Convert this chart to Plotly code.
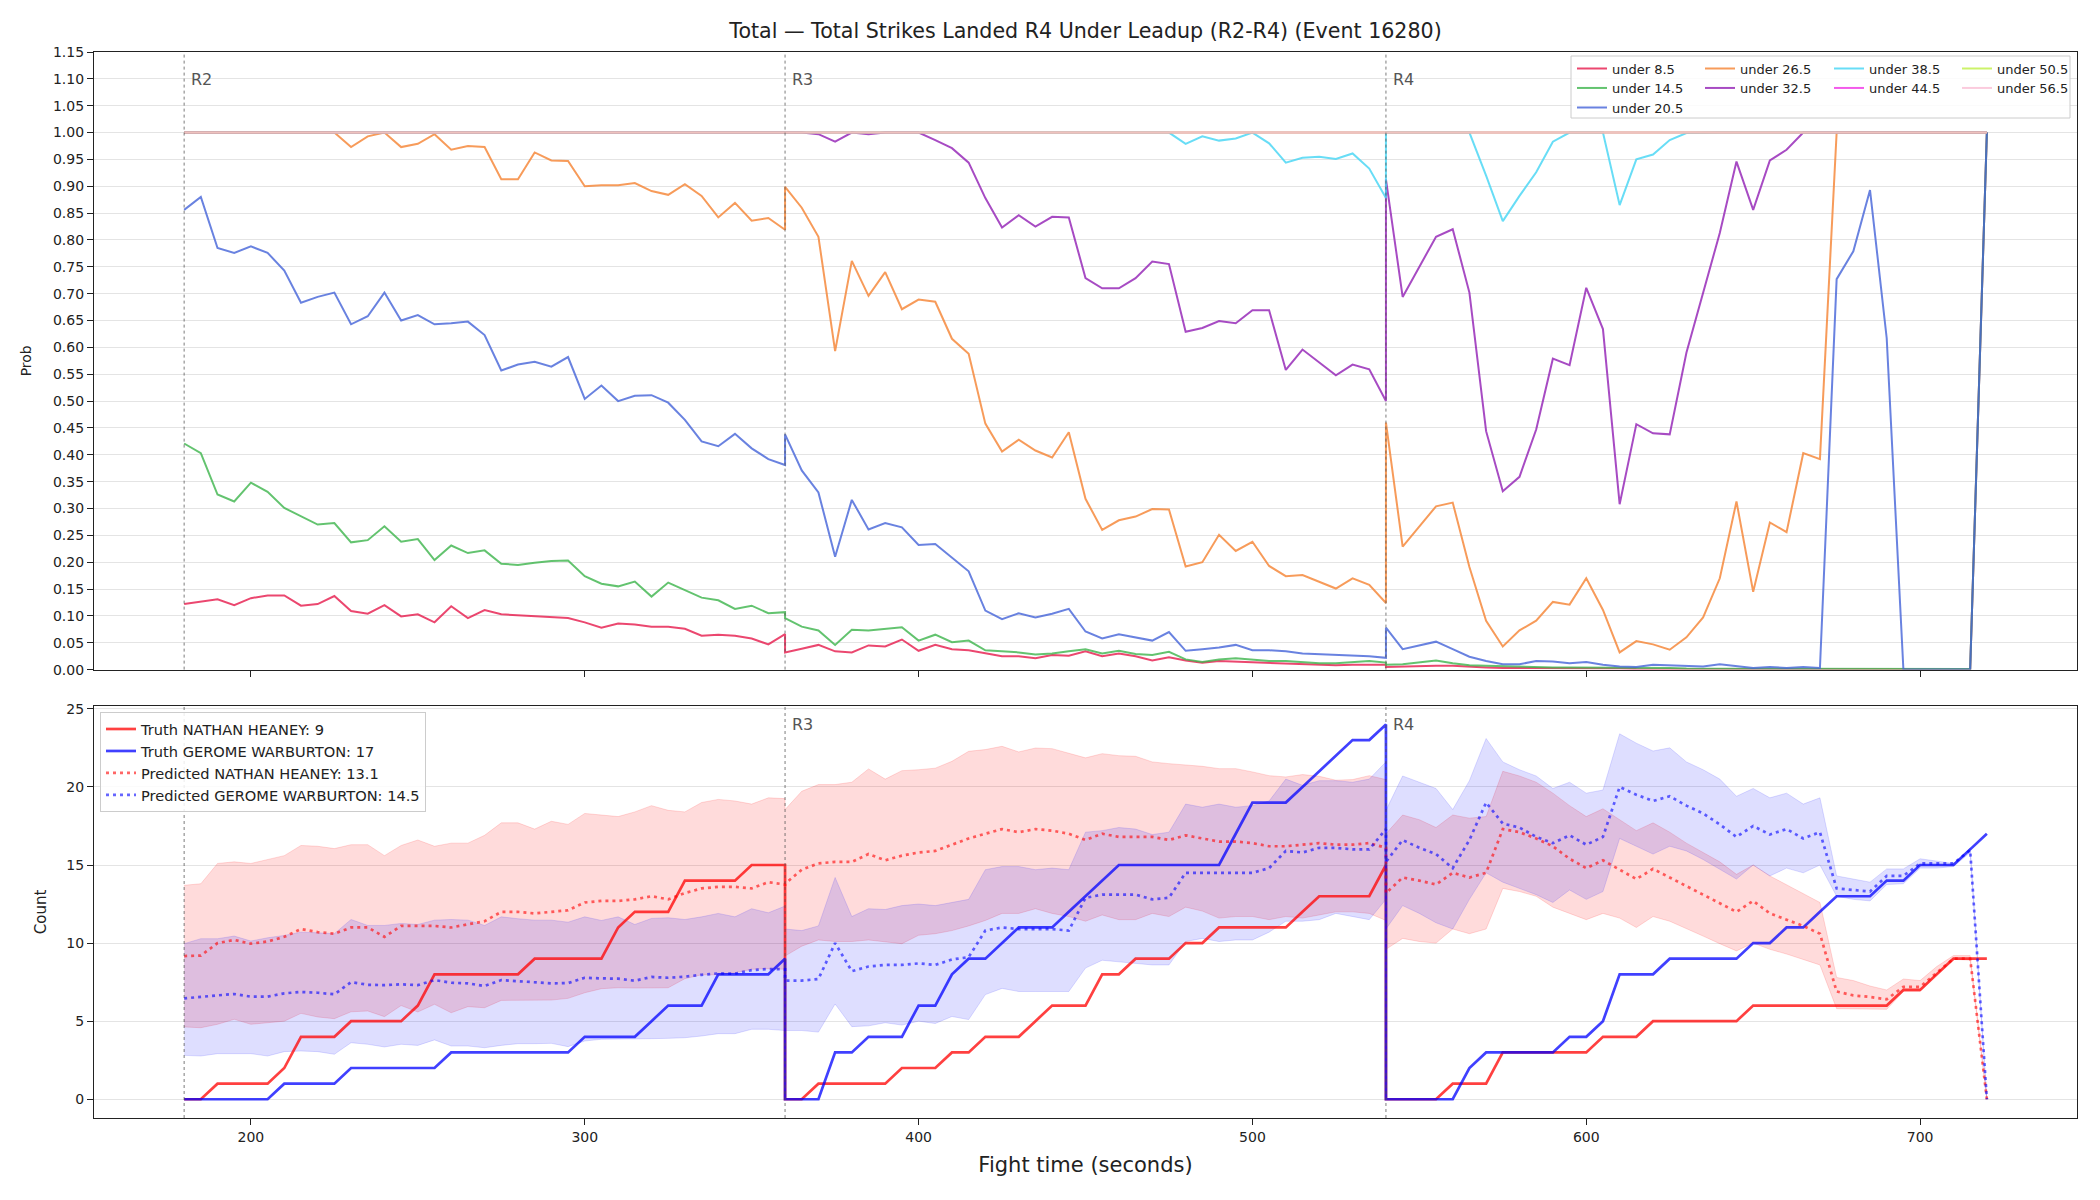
import plotly.graph_objects as go

# ---------------- sample times (seconds) for each round ----------------
T_R2 = list(range(180, 361, 5))
T_R3 = list(range(360, 541, 5))
T_R4 = list(range(540, 721, 5))

# ---------------- top panel: probabilities ----------------
u85_r2 = [0.122, 0.126, 0.131, 0.120, 0.133, 0.138, 0.138, 0.119, 0.122, 0.137,
          0.109, 0.104, 0.120, 0.099, 0.103, 0.088, 0.118, 0.096, 0.111, 0.103,
          0.101, 0.100, 0.098, 0.096, 0.088, 0.078, 0.086, 0.084, 0.080, 0.080,
          0.076, 0.063, 0.065, 0.063, 0.058, 0.047, 0.066]
u85_r3 = [0.032, 0.039, 0.046, 0.034, 0.032, 0.045, 0.043, 0.056, 0.035, 0.046,
          0.038, 0.036, 0.030, 0.025, 0.025, 0.021, 0.027, 0.026, 0.034, 0.025,
          0.030, 0.025, 0.017, 0.023, 0.017, 0.013, 0.016, 0.015, 0.014, 0.012,
          0.012, 0.011, 0.009, 0.008, 0.009, 0.009, 0.009]
u85_r4 = [0.005, 0.006, 0.006, 0.007, 0.007, 0.005, 0.004, 0.003, 0.003, 0.003,
          0.002, 0.002, 0.002, 0.002, 0.002, 0.001, 0.001, 0.001, 0.001, 0.001,
          0.001, 0.001, 0.001, 0.001, 0.001, 0.001, 0.001, 0.001, 0.001, 0.001,
          0.000, 0.000, 0.000, 0.000, 0.000, 0.000, 1.000]

u145_r2 = [0.421, 0.403, 0.326, 0.313, 0.348, 0.331, 0.301, 0.285, 0.270, 0.273,
           0.237, 0.241, 0.267, 0.238, 0.243, 0.204, 0.231, 0.217, 0.222, 0.197,
           0.195, 0.199, 0.202, 0.203, 0.174, 0.160, 0.155, 0.164, 0.136, 0.162,
           0.148, 0.134, 0.129, 0.113, 0.119, 0.105, 0.107]
u145_r3 = [0.096, 0.080, 0.073, 0.046, 0.074, 0.073, 0.076, 0.079, 0.054, 0.065,
           0.051, 0.054, 0.036, 0.034, 0.032, 0.028, 0.030, 0.034, 0.038, 0.030,
           0.035, 0.029, 0.027, 0.033, 0.019, 0.014, 0.019, 0.021, 0.018, 0.016,
           0.016, 0.014, 0.012, 0.012, 0.014, 0.016, 0.013]
u145_r4 = [0.009, 0.010, 0.013, 0.017, 0.012, 0.008, 0.007, 0.006, 0.005, 0.005,
           0.004, 0.004, 0.004, 0.003, 0.003, 0.003, 0.003, 0.003, 0.002, 0.002,
           0.002, 0.002, 0.002, 0.002, 0.002, 0.002, 0.002, 0.001, 0.001, 0.001,
           0.001, 0.001, 0.001, 0.001, 0.001, 0.001, 1.000]

u205_r2 = [0.856, 0.880, 0.785, 0.776, 0.788, 0.776, 0.743, 0.683, 0.694, 0.702,
           0.643, 0.658, 0.702, 0.650, 0.660, 0.643, 0.645, 0.648, 0.623, 0.557,
           0.568, 0.573, 0.564, 0.582, 0.504, 0.529, 0.500, 0.510, 0.511, 0.497,
           0.465, 0.425, 0.416, 0.439, 0.412, 0.392, 0.381]
u205_r3 = [0.438, 0.371, 0.330, 0.210, 0.316, 0.261, 0.273, 0.265, 0.232, 0.234,
           0.208, 0.183, 0.110, 0.094, 0.105, 0.097, 0.104, 0.113, 0.071, 0.058,
           0.066, 0.060, 0.054, 0.070, 0.035, 0.038, 0.041, 0.046, 0.036, 0.036,
           0.034, 0.030, 0.029, 0.027, 0.027, 0.025, 0.022]
u205_r4 = [0.078, 0.038, 0.045, 0.052, 0.038, 0.024, 0.016, 0.010, 0.010, 0.016,
           0.015, 0.012, 0.014, 0.009, 0.006, 0.005, 0.009, 0.008, 0.006, 0.006,
           0.010, 0.006, 0.003, 0.005, 0.003, 0.005, 0.003, 0.727, 0.779, 0.893,
           0.617, 0.000, 0.000, 0.000, 0.000, 0.000, 1.000]

u265_r2 = [1.000, 1.000, 1.000, 1.000, 1.000, 1.000, 1.000, 1.000, 1.000, 1.000,
           0.973, 0.993, 1.000, 0.973, 0.979, 0.997, 0.968, 0.975, 0.973, 0.913,
           0.913, 0.963, 0.948, 0.947, 0.900, 0.902, 0.902, 0.906, 0.891, 0.884,
           0.904, 0.882, 0.842, 0.869, 0.836, 0.841, 0.819]
u265_r3 = [0.899, 0.860, 0.806, 0.593, 0.761, 0.696, 0.740, 0.671, 0.689, 0.685,
           0.616, 0.588, 0.458, 0.406, 0.428, 0.408, 0.395, 0.442, 0.318, 0.260,
           0.278, 0.285, 0.299, 0.298, 0.192, 0.200, 0.251, 0.221, 0.238, 0.193,
           0.174, 0.176, 0.163, 0.151, 0.170, 0.158, 0.124]
u265_r4 = [0.460, 0.229, 0.267, 0.304, 0.311, 0.191, 0.091, 0.043, 0.073, 0.091,
           0.126, 0.121, 0.170, 0.111, 0.032, 0.053, 0.047, 0.037, 0.060, 0.097,
           0.170, 0.313, 0.145, 0.274, 0.256, 0.403, 0.392, 1.000, 1.000, 1.000,
           1.000, 1.000, 1.000, 1.000, 1.000, 1.000, 1.000]

u325_r2 = [1.000, 1.000, 1.000, 1.000, 1.000, 1.000, 1.000, 1.000, 1.000, 1.000,
           1.000, 1.000, 1.000, 1.000, 1.000, 1.000, 1.000, 1.000, 1.000, 1.000,
           1.000, 1.000, 1.000, 1.000, 1.000, 1.000, 1.000, 1.000, 1.000, 1.000,
           1.000, 1.000, 1.000, 1.000, 1.000, 1.000, 1.000]
u325_r3 = [1.000, 1.000, 0.997, 0.983, 1.000, 0.997, 1.000, 1.000, 1.000, 0.986,
           0.971, 0.944, 0.878, 0.823, 0.846, 0.825, 0.843, 0.842, 0.729, 0.710,
           0.710, 0.729, 0.760, 0.755, 0.629, 0.636, 0.649, 0.645, 0.669, 0.669,
           0.558, 0.596, 0.572, 0.548, 0.568, 0.559, 0.500]
u325_r4 = [0.913, 0.694, 0.750, 0.806, 0.820, 0.702, 0.444, 0.332, 0.359, 0.447,
           0.579, 0.567, 0.711, 0.634, 0.308, 0.457, 0.440, 0.438, 0.590, 0.700,
           0.813, 0.946, 0.856, 0.948, 0.968, 1.000, 1.000, 1.000, 1.000, 1.000,
           1.000, 1.000, 1.000, 1.000, 1.000, 1.000, 1.000]

u385_r2 = [1.000, 1.000, 1.000, 1.000, 1.000, 1.000, 1.000, 1.000, 1.000, 1.000,
           1.000, 1.000, 1.000, 1.000, 1.000, 1.000, 1.000, 1.000, 1.000, 1.000,
           1.000, 1.000, 1.000, 1.000, 1.000, 1.000, 1.000, 1.000, 1.000, 1.000,
           1.000, 1.000, 1.000, 1.000, 1.000, 1.000, 1.000]
u385_r3 = [1.000, 1.000, 1.000, 1.000, 1.000, 1.000, 1.000, 1.000, 1.000, 1.000,
           1.000, 1.000, 1.000, 1.000, 1.000, 1.000, 1.000, 1.000, 1.000, 1.000,
           1.000, 1.000, 1.000, 1.000, 0.979, 0.993, 0.985, 0.989, 1.000, 0.980,
           0.944, 0.953, 0.955, 0.951, 0.961, 0.933, 0.878]
u385_r4 = [1.000, 1.000, 1.000, 1.000, 1.000, 1.000, 0.920, 0.835, 0.882, 0.926,
           0.983, 1.000, 1.000, 1.000, 0.865, 0.950, 0.959, 0.986, 0.999, 1.000,
           1.000, 1.000, 1.000, 1.000, 1.000, 1.000, 1.000, 1.000, 1.000, 1.000,
           1.000, 1.000, 1.000, 1.000, 1.000, 1.000, 1.000]

u_high_r = [1.000, 1.000, 1.000, 1.000, 1.000, 1.000, 1.000, 1.000, 1.000, 1.000,
            1.000, 1.000, 1.000, 1.000, 1.000, 1.000, 1.000, 1.000, 1.000, 1.000,
            1.000, 1.000, 1.000, 1.000, 1.000, 1.000, 1.000, 1.000, 1.000, 1.000,
            1.000, 1.000, 1.000, 1.000, 1.000, 1.000, 1.000]
u445_r2, u445_r3, u445_r4 = u_high_r, u_high_r, u_high_r
u505_r2, u505_r3, u505_r4 = u_high_r, u_high_r, u_high_r
u565_r2, u565_r3, u565_r4 = u_high_r, u_high_r, u_high_r

line_labels = ["under 8.5", "under 14.5", "under 20.5", "under 26.5", "under 32.5",
               "under 38.5", "under 44.5", "under 50.5", "under 56.5"]
line_colors = ["rgba(230,25,75,0.8)", "rgba(60,180,75,0.8)", "rgba(67,99,216,0.8)",
               "rgba(245,130,49,0.8)", "rgba(145,30,180,0.8)", "rgba(66,212,244,0.8)",
               "rgba(240,50,230,0.8)", "rgba(191,239,69,0.8)", "rgba(250,190,212,0.8)"]
line_series = [
    (u85_r2, u85_r3, u85_r4), (u145_r2, u145_r3, u145_r4), (u205_r2, u205_r3, u205_r4),
    (u265_r2, u265_r3, u265_r4), (u325_r2, u325_r3, u325_r4), (u385_r2, u385_r3, u385_r4),
    (u445_r2, u445_r3, u445_r4), (u505_r2, u505_r3, u505_r4), (u565_r2, u565_r3, u565_r4),
]

# ---------------- bottom panel: counts ----------------
truth_heaney_r2 = [0, 0, 1, 1, 1, 1, 2, 4, 4, 4, 5, 5, 5, 5, 6, 8, 8, 8, 8, 8,
                   8, 9, 9, 9, 9, 9, 11, 12, 12, 12, 14, 14, 14, 14, 15, 15, 15]
truth_heaney_r3 = [0, 0, 1, 1, 1, 1, 1, 2, 2, 2, 3, 3, 4, 4, 4, 5, 6, 6, 6, 8,
                   8, 9, 9, 9, 10, 10, 11, 11, 11, 11, 11, 12, 13, 13, 13, 13, 15]
truth_heaney_r4 = [0, 0, 0, 0, 1, 1, 1, 3, 3, 3, 3, 3, 3, 4, 4, 4, 5, 5, 5, 5,
                   5, 5, 6, 6, 6, 6, 6, 6, 6, 6, 6, 7, 7, 8, 9, 9, 9]

truth_warb_r2 = [0, 0, 0, 0, 0, 0, 1, 1, 1, 1, 2, 2, 2, 2, 2, 2, 3, 3, 3, 3,
                 3, 3, 3, 3, 4, 4, 4, 4, 5, 6, 6, 6, 8, 8, 8, 8, 9]
truth_warb_r3 = [0, 0, 0, 3, 3, 4, 4, 4, 6, 6, 8, 9, 9, 10, 11, 11, 11, 12, 13, 14,
                 15, 15, 15, 15, 15, 15, 15, 17, 19, 19, 19, 20, 21, 22, 23, 23, 24]
truth_warb_r4 = [0, 0, 0, 0, 0, 2, 3, 3, 3, 3, 3, 4, 4, 5, 8, 8, 8, 9, 9, 9,
                 9, 9, 10, 10, 11, 11, 12, 13, 13, 13, 14, 14, 15, 15, 15, 16, 17]

pred_heaney_r2 = [9.17, 9.2, 10.0, 10.2, 9.96, 10.1, 10.4, 10.9, 10.7, 10.6,
                  11.0, 11.0, 10.4, 11.1, 11.1, 11.1, 11.0, 11.2, 11.4, 12.0,
                  12.0, 11.9, 12.0, 12.1, 12.6, 12.7, 12.7, 12.8, 13.0, 12.8,
                  13.2, 13.5, 13.6, 13.6, 13.5, 13.9, 13.75]
pred_heaney_r3 = [13.8, 14.7, 15.1, 15.2, 15.2, 15.7, 15.3, 15.6, 15.8, 15.9,
                  16.3, 16.7, 17.0, 17.3, 17.1, 17.3, 17.2, 17.0, 16.6, 17.0,
                  16.8, 16.8, 16.8, 16.6, 16.9, 16.7, 16.5, 16.5, 16.4, 16.2,
                  16.2, 16.3, 16.4, 16.3, 16.3, 16.4, 16.1]
pred_heaney_r4 = [13.2, 14.2, 14.0, 13.75, 14.5, 14.2, 14.5, 17.3, 17.1, 16.7,
                  16.2, 15.4, 14.8, 15.3, 14.7, 14.1, 14.75, 14.2, 13.7, 13.1,
                  12.6, 12.0, 12.7, 11.9, 11.5, 11.1, 10.6, 6.9, 6.65, 6.55,
                  6.4, 7.2, 7.2, 8.1, 9.0, 9.0, 0.0]

pred_warb_r2 = [6.46, 6.57, 6.65, 6.74, 6.57, 6.57, 6.78, 6.87, 6.82, 6.72,
                7.5, 7.33, 7.31, 7.36, 7.31, 7.63, 7.46, 7.42, 7.25, 7.63,
                7.55, 7.5, 7.42, 7.44, 7.78, 7.74, 7.72, 7.59, 7.83, 7.78,
                7.85, 7.97, 8.06, 8.04, 8.27, 8.34, 8.32]
pred_warb_r3 = [7.6, 7.6, 7.7, 10.0, 8.2, 8.5, 8.6, 8.6, 8.7, 8.6,
                8.95, 9.1, 10.8, 11.0, 10.9, 10.9, 10.9, 10.8, 12.9, 13.1,
                13.1, 13.1, 12.8, 12.9, 14.5, 14.5, 14.5, 14.5, 14.5, 14.8,
                15.9, 15.8, 16.1, 16.1, 16.0, 16.0, 17.3]
pred_warb_r4 = [15.2, 16.6, 16.1, 15.7, 14.8, 16.6, 19.0, 17.65, 17.4, 16.8,
                16.4, 16.9, 16.3, 16.8, 20.0, 19.5, 19.1, 19.4, 18.8, 18.3,
                17.6, 16.8, 17.5, 16.95, 17.3, 16.7, 17.1, 13.5, 13.4, 13.3,
                14.3, 14.3, 15.1, 15.1, 15.1, 15.95, 0.0]

band_heaney_lo_r2 = [4.63, 4.58, 4.8, 5.12, 4.8, 4.9, 5.0, 5.5, 5.27, 5.16,
                     5.6, 5.65, 5.29, 6.0, 5.59, 6.08, 5.54, 5.93, 5.86, 6.33,
                     6.33, 6.35, 6.35, 6.46, 6.82, 7.08, 7.14, 7.12, 7.14, 7.14,
                     7.72, 7.97, 7.97, 8.1, 8.32, 8.36, 8.32]
band_heaney_hi_r2 = [13.7, 13.8, 15.1, 15.2, 15.1, 15.35, 15.6, 16.25, 16.2, 16.05,
                     16.3, 16.3, 15.6, 16.25, 16.6, 16.2, 16.4, 16.4, 16.9, 17.7,
                     17.7, 17.3, 17.8, 17.6, 18.3, 18.2, 18.1, 18.4, 18.8, 18.5,
                     18.4, 19.0, 19.2, 19.1, 18.9, 19.3, 19.25]
band_heaney_lo_r3 = [9.17, 9.8, 10.2, 10.1, 10.1, 10.2, 10.1, 9.96, 10.5, 10.6,
                     10.8, 11.1, 11.45, 11.9, 11.9, 12.2, 11.9, 11.7, 11.4, 11.8,
                     11.5, 11.5, 11.9, 11.7, 12.3, 12.05, 11.6, 11.7, 11.7, 11.5,
                     11.7, 11.6, 11.8, 12.0, 12.0, 11.9, 11.45]
band_heaney_hi_r3 = [18.55, 19.72, 20.15, 20.15, 20.3, 21.15, 20.5, 21.04, 21.1, 21.2,
                     21.64, 22.28, 22.39, 22.6, 22.24, 22.49, 22.45, 22.17, 21.86, 22.13,
                     22.0, 21.96, 21.6, 21.49, 21.39, 21.32, 21.17, 21.17, 20.96, 20.72,
                     20.64, 20.79, 20.68, 20.43, 20.47, 20.72, 20.47]
band_heaney_lo_r4 = [9.6, 10.3, 10.1, 10.0, 10.9, 10.6, 10.9, 13.5, 13.3, 13.0,
                     12.3, 11.9, 11.5, 11.9, 11.6, 11.0, 11.7, 11.4, 10.9, 10.45,
                     9.96, 9.5, 10.0, 9.6, 9.3, 8.96, 8.6, 5.8, 5.8, 5.8,
                     5.76, 6.9, 6.9, 8.0, 8.96, 8.9, 0.0]
band_heaney_hi_r4 = [17.0, 18.2, 17.9, 17.4, 18.2, 18.0, 18.1, 21.0, 20.7, 20.3,
                     19.6, 18.8, 18.1, 18.6, 17.9, 17.2, 17.7, 17.1, 16.4, 15.8,
                     15.2, 14.4, 15.0, 14.3, 13.75, 13.2, 12.6, 7.8, 7.6, 7.25,
                     7.0, 7.7, 7.6, 8.5, 9.2, 9.2, 0.0]

band_warb_lo_r2 = [2.81, 2.77, 2.92, 2.92, 2.92, 2.77, 3.05, 3.09, 3.05, 2.88,
                   3.62, 3.52, 3.35, 3.52, 3.45, 3.8, 3.41, 3.41, 3.3, 3.45,
                   3.56, 3.56, 3.58, 3.37, 3.73, 3.84, 3.84, 3.88, 3.88, 3.9,
                   3.94, 4.05, 4.2, 4.2, 4.48, 4.48, 4.43]
band_warb_hi_r2 = [9.96, 10.28, 10.28, 10.45, 10.13, 10.34, 10.49, 10.7, 10.66, 10.6,
                   11.51, 11.13, 11.13, 11.26, 11.19, 11.47, 11.51, 11.47, 11.13, 11.68,
                   11.56, 11.47, 11.47, 11.34, 11.68, 11.45, 11.68, 11.19, 11.58, 11.62,
                   11.51, 11.68, 11.9, 11.68, 12.2, 11.94, 12.37]
band_warb_lo_r3 = [4.4, 4.4, 4.3, 6.1, 4.65, 4.7, 4.9, 4.75, 5.0, 4.85,
                   5.3, 5.1, 6.7, 7.1, 6.9, 6.9, 6.9, 6.9, 8.4, 8.9,
                   8.8, 8.7, 8.6, 8.6, 10.1, 10.3, 10.1, 10.2, 10.2, 10.7,
                   11.4, 11.4, 11.5, 11.9, 11.7, 11.5, 12.8]
band_warb_hi_r3 = [10.9, 10.8, 11.1, 14.2, 11.7, 12.2, 12.15, 12.4, 12.5, 12.4,
                   12.6, 12.8, 14.7, 14.9, 14.9, 14.7, 14.8, 14.7, 17.1, 17.2,
                   17.4, 17.3, 16.95, 17.1, 18.9, 18.7, 18.9, 18.7, 18.8, 19.1,
                   20.5, 20.1, 20.4, 20.4, 20.3, 20.5, 21.6]
band_warb_lo_r4 = [10.9, 12.4, 11.9, 11.3, 10.9, 12.8, 14.5, 13.9, 13.5, 13.1,
                   12.6, 13.4, 12.8, 13.3, 16.7, 16.2, 15.7, 16.2, 15.9, 15.35,
                   14.7, 14.1, 15.0, 14.3, 14.8, 14.5, 15.0, 13.0, 12.8, 12.7,
                   13.75, 13.8, 14.8, 14.8, 14.9, 15.8, 0.0]
band_warb_hi_r4 = [18.5, 20.7, 20.3, 19.9, 18.55, 20.4, 23.1, 21.6, 21.1, 20.7,
                   19.9, 20.3, 19.6, 19.8, 23.4, 22.8, 22.3, 22.5, 21.6, 21.1,
                   20.5, 19.4, 19.9, 19.3, 19.6, 18.9, 19.3, 14.3, 14.1, 13.9,
                   14.75, 14.75, 15.4, 15.25, 15.1, 16.1, 0.0]

round_starts = [180, 360, 540]
round_names = ["R2", "R3", "R4"]

TITLE = "Total \u2014 Total Strikes Landed R4 Under Leadup (R2-R4) (Event 16280)"

# ---------------- build ----------------
TIME = T_R2 + T_R3 + T_R4
FONT = "DejaVu Sans"

W, H = 2100, 1200
ML, MR, MT, MB = 94, 23, 52, 82
PW, PH = W - ML - MR, H - MT - MB


def py(px_from_top):
    return (H - MB - px_from_top) / PH


def px(px_from_left):
    return (px_from_left - ML) / PW


fig = go.Figure()

# top legend grid: 4 columns, filled column by column (one legend per entry)
col_left = [1572, 1700, 1829, 1957]
row_mid = [68.5, 88.0, 107.5]
slot = [(0, 0), (0, 1), (0, 2), (1, 0), (1, 1), (2, 0), (2, 1), (3, 0), (3, 1)]
top_legends = {}
for k, (lab, col, (a, b, c)) in enumerate(zip(line_labels, line_colors, line_series)):
    lname = "legend" if k == 0 else "legend%d" % (k + 1)
    ci, ri = slot[k]
    top_legends[lname] = dict(x=px(col_left[ci]), y=py(row_mid[ri]), xanchor="left",
                              yanchor="middle", orientation="v", bgcolor="rgba(0,0,0,0)",
                              borderwidth=0, traceorder="normal", itemwidth=30,
                              font=dict(family=FONT, size=13, color="#222222"))
    fig.add_trace(go.Scatter(x=TIME, y=a + b + c, mode="lines", name=lab,
                             line=dict(color=col, width=2), xaxis="x", yaxis="y",
                             legend=lname, hoverinfo="skip"))


def band(lo, hi, fill):
    fig.add_trace(go.Scatter(x=TIME, y=lo, mode="lines", showlegend=False,
                             line=dict(color=fill, width=1), xaxis="x2", yaxis="y2",
                             hoverinfo="skip"))
    fig.add_trace(go.Scatter(x=TIME, y=hi, mode="lines", showlegend=False, fill="tonexty",
                             fillcolor=fill, line=dict(color=fill, width=1),
                             xaxis="x2", yaxis="y2", hoverinfo="skip"))


band(band_heaney_lo_r2 + band_heaney_lo_r3 + band_heaney_lo_r4,
     band_heaney_hi_r2 + band_heaney_hi_r3 + band_heaney_hi_r4, "rgba(255,0,0,0.14)")
band(band_warb_lo_r2 + band_warb_lo_r3 + band_warb_lo_r4,
     band_warb_hi_r2 + band_warb_hi_r3 + band_warb_hi_r4, "rgba(0,0,255,0.13)")

BL = "legend10"
fig.add_trace(go.Scatter(x=TIME, y=truth_heaney_r2 + truth_heaney_r3 + truth_heaney_r4,
                         mode="lines", name="Truth NATHAN HEANEY: 9",
                         line=dict(color="rgba(255,0,0,0.75)", width=2.7),
                         xaxis="x2", yaxis="y2", legend=BL, hoverinfo="skip"))
fig.add_trace(go.Scatter(x=TIME, y=truth_warb_r2 + truth_warb_r3 + truth_warb_r4,
                         mode="lines", name="Truth GEROME WARBURTON: 17",
                         line=dict(color="rgba(0,0,255,0.75)", width=2.7),
                         xaxis="x2", yaxis="y2", legend=BL, hoverinfo="skip"))
fig.add_trace(go.Scatter(x=TIME, y=pred_heaney_r2 + pred_heaney_r3 + pred_heaney_r4,
                         mode="lines", name="Predicted NATHAN HEANEY: 13.1",
                         line=dict(color="rgba(255,0,0,0.6)", width=2.7, dash="3px,4px"),
                         xaxis="x2", yaxis="y2", legend=BL, hoverinfo="skip"))
fig.add_trace(go.Scatter(x=TIME, y=pred_warb_r2 + pred_warb_r3 + pred_warb_r4,
                         mode="lines", name="Predicted GEROME WARBURTON: 14.5",
                         line=dict(color="rgba(0,0,255,0.6)", width=2.7, dash="3px,4px"),
                         xaxis="x2", yaxis="y2", legend=BL, hoverinfo="skip"))

# ---------------- layout ----------------
top_dom = [py(669.6), 1.0]
bot_dom = [0.0, py(705.7)]

axis_common = dict(showline=True, linecolor="#222222", linewidth=1.3, mirror=True,
                   ticks="outside", ticklen=6, tickwidth=1.2, tickcolor="#222222",
                   tickfont=dict(family=FONT, size=14, color="#222222"), zeroline=False)

shapes = []
annotations = []
for x0, nm in zip(round_starts, round_names):
    for yref, ylab in (("y domain", True), ("y2 domain", nm != "R2")):
        xr = "x" if yref == "y domain" else "x2"
        shapes.append(dict(type="line", xref=xr, yref=yref, x0=x0, x1=x0, y0=0, y1=1,
                           line=dict(color="rgba(80,80,80,0.75)", width=1, dash="dot")))
        if ylab:
            annotations.append(dict(text=nm, xref=xr, yref=yref, x=x0, y=0.955,
                                    xanchor="left", yanchor="middle", xshift=5,
                                    showarrow=False,
                                    font=dict(family=FONT, size=16, color="#555555")))

# legend frame for the top panel
shapes.append(dict(type="rect", xref="paper", yref="paper", layer="above",
                   x0=px(1571), x1=px(2070), y0=py(118), y1=py(56),
                   fillcolor="rgba(255,255,255,0.85)", line=dict(color="#cccccc", width=1)))

fig.update_layout(
    width=W, height=H,
    margin=dict(l=ML, r=MR, t=MT, b=MB),
    paper_bgcolor="white", plot_bgcolor="white",
    font=dict(family=FONT, size=14, color="#222222"),
    title=dict(text=TITLE, x=px(1085.5), xref="paper", xanchor="center",
               y=1 - 31 / H, yref="container", yanchor="middle",
               font=dict(family=FONT, size=20.6, color="#222222")),
    xaxis=dict(domain=[0, 1], anchor="y", range=[153, 747], matches="x2",
               showticklabels=False, tickvals=[200, 300, 400, 500, 600, 700],
               showgrid=False, **axis_common),
    yaxis=dict(domain=top_dom, anchor="x", range=[0, 1.15], dtick=0.05, tick0=0,
               tickformat=".2f", showgrid=True, gridcolor="#e4e4e4", gridwidth=1,
               title=dict(text="Prob", font=dict(family=FONT, size=14), standoff=17),
               **axis_common),
    xaxis2=dict(domain=[0, 1], anchor="y2", range=[153, 747],
                tickvals=[200, 300, 400, 500, 600, 700], showgrid=False,
                title=dict(text="Fight time (seconds)", font=dict(family=FONT, size=21),
                           standoff=13),
                **axis_common),
    yaxis2=dict(domain=bot_dom, anchor="x2", range=[-1.2, 25.2], dtick=5, tick0=0,
                showgrid=True, gridcolor="#e4e4e4", gridwidth=1,
                title=dict(text="Count", font=dict(family=FONT, size=15), standoff=15),
                **axis_common),
    shapes=shapes,
    annotations=annotations,
    showlegend=True,
)
fig.update_layout(**top_legends)
fig.update_layout(**{BL: dict(x=px(100), y=py(712), xanchor="left", yanchor="top",
                              orientation="v", traceorder="normal",
                              font=dict(family=FONT, size=14.6, color="#222222"),
                              bgcolor="rgba(255,255,255,0.85)", bordercolor="#cccccc",
                              borderwidth=1, tracegroupgap=0, itemwidth=30)})

fig.write_html("out.html")
